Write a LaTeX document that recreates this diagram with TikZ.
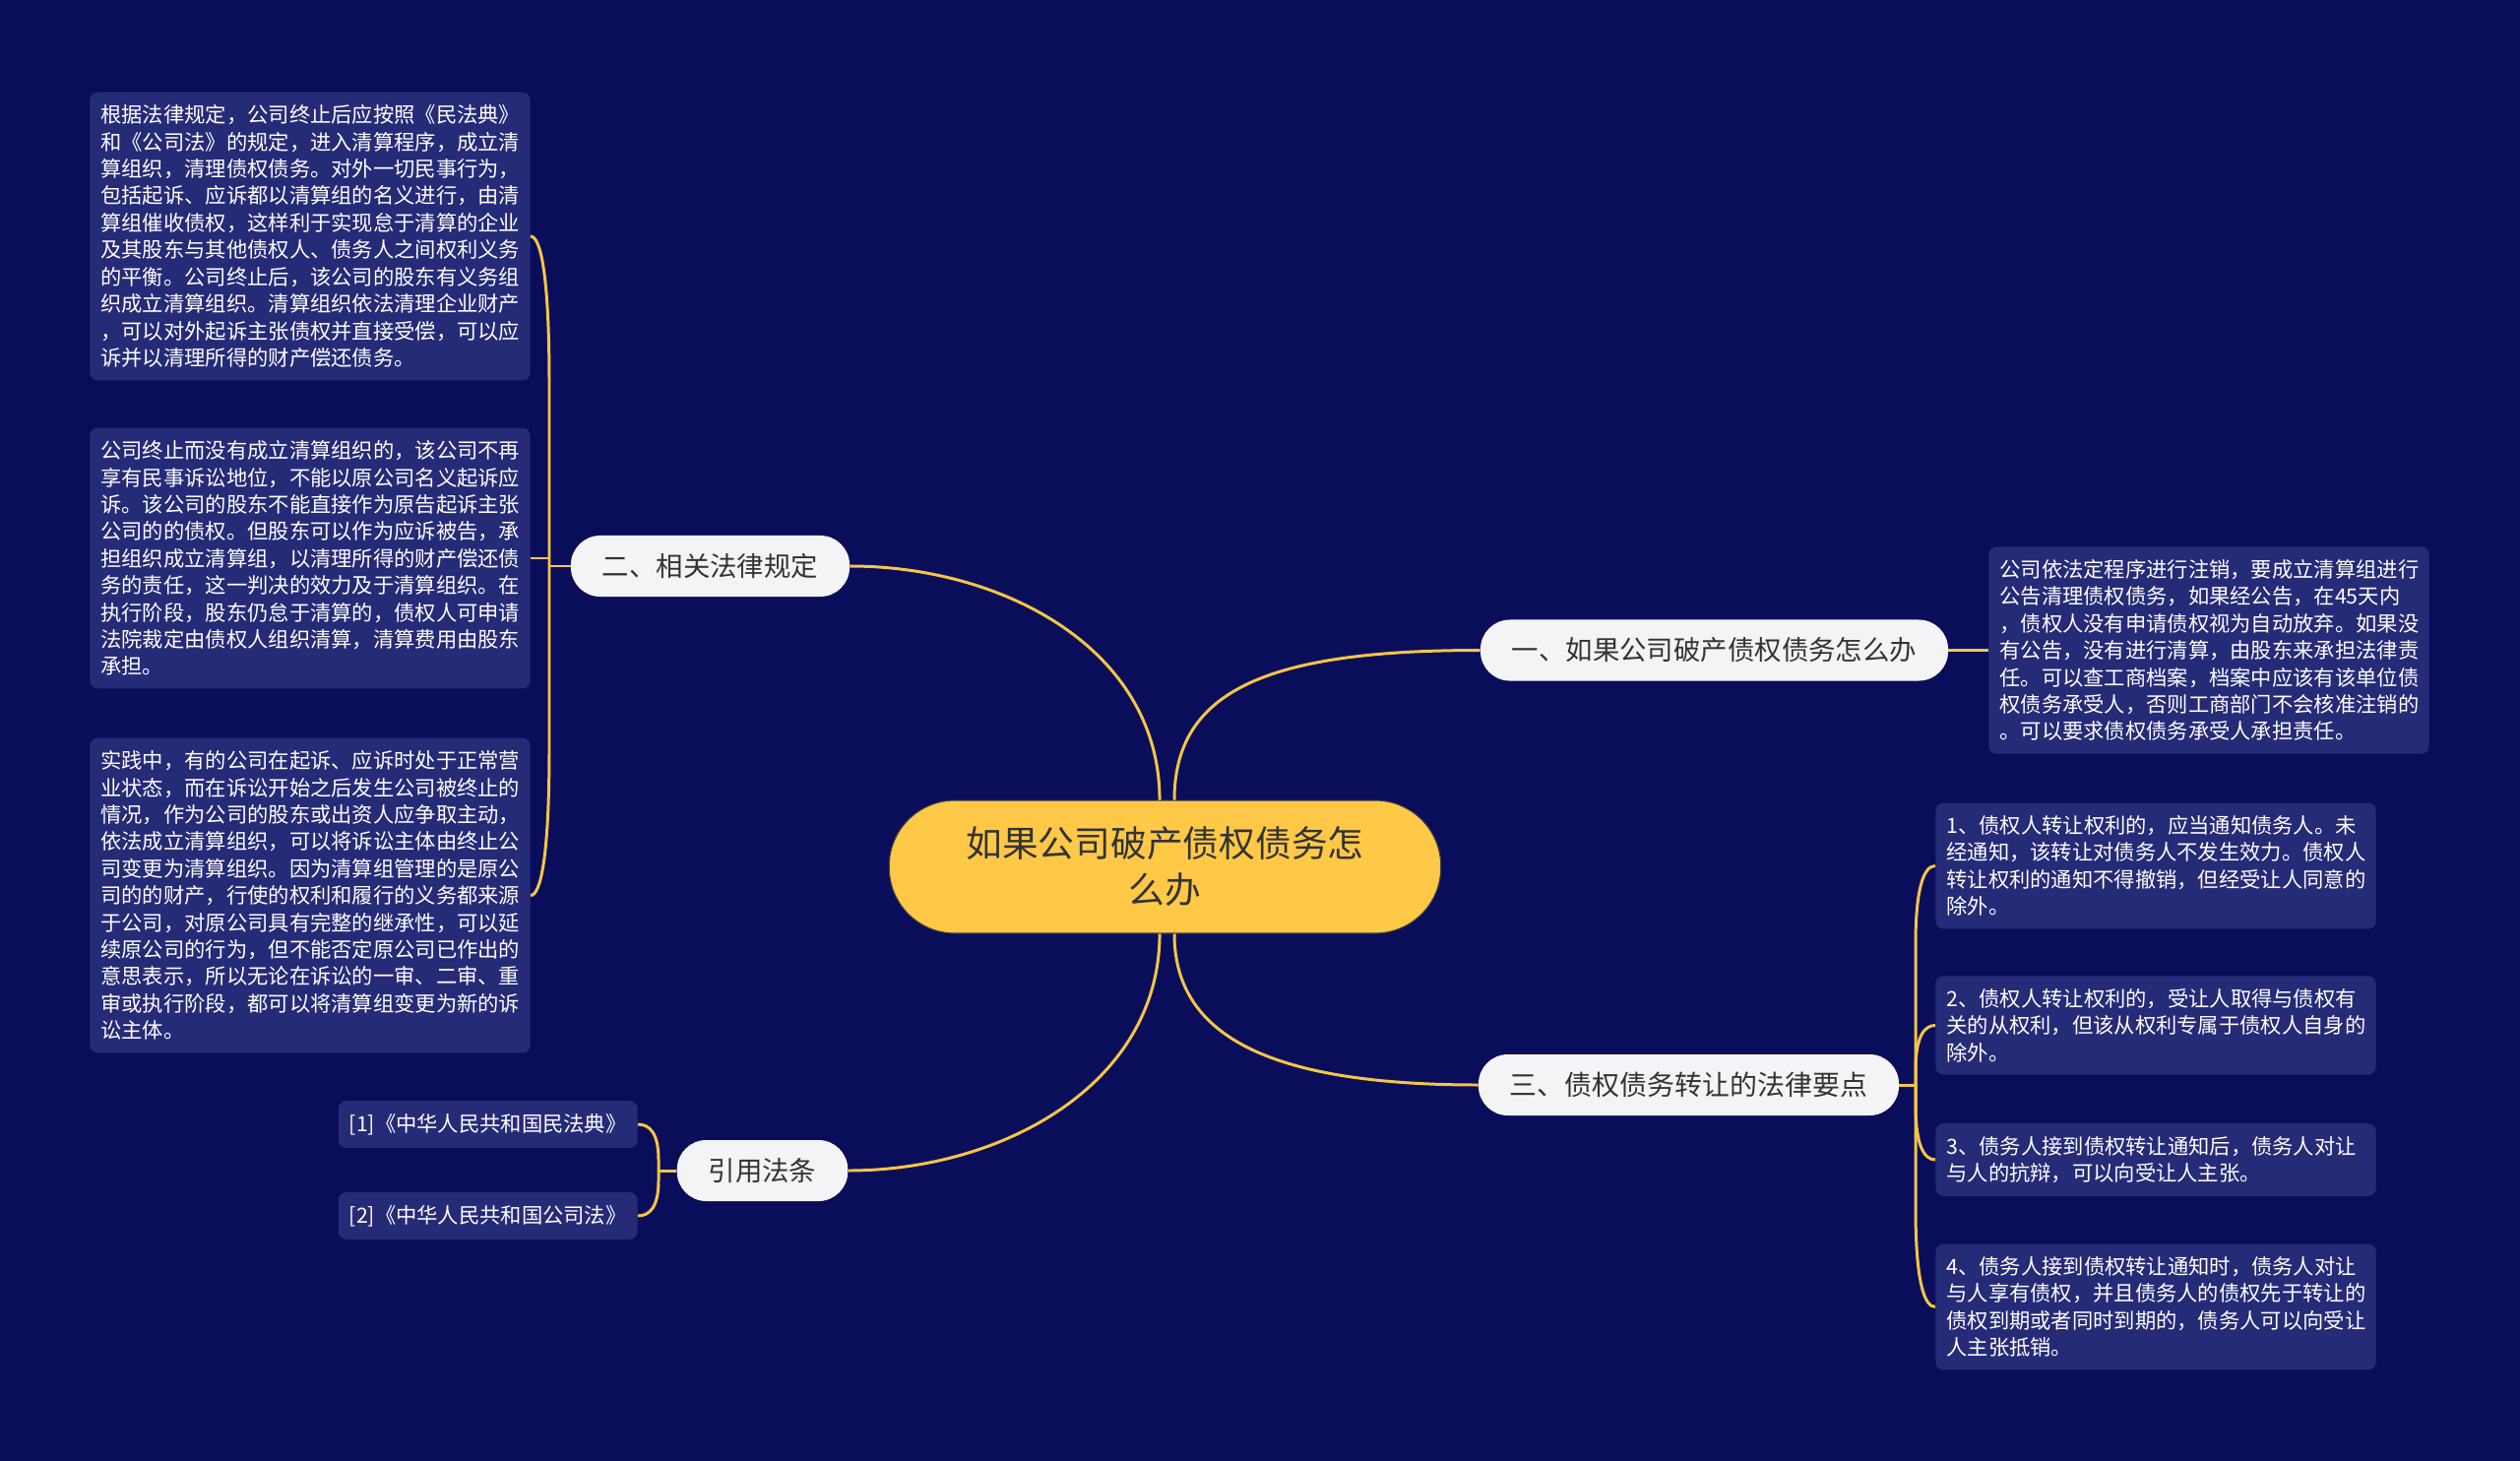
\documentclass[tikz,border=0pt]{standalone}
\usepackage{fontspec}
\setmainfont{Noto Sans CJK SC}

\definecolor{bgnavy}{HTML}{0A0E5A}
\definecolor{leafnavy}{HTML}{262B78}
\definecolor{linkgold}{HTML}{F5C646}
\definecolor{rootgold}{HTML}{FFC947}
\definecolor{branchwhite}{HTML}{F4F4F6}
\definecolor{inkgrey}{HTML}{333333}

\tikzset{
  link/.style={draw=linkgold, line width=1.7pt},
  rootbox/.style={fill=rootgold, draw=black!75, line width=0.6pt, rounded corners=38pt,
    minimum width=319pt, minimum height=76.8pt, text width=236pt, align=center,
    text=inkgrey, font=\fontsize{20.9pt}{26.7pt}\selectfont},
  branchbox/.style={fill=branchwhite, rounded corners=17pt, minimum height=35.3pt,
    inner xsep=18.2pt, inner ysep=0pt, text=inkgrey, font=\fontsize{15.6pt}{18pt}\selectfont},
  leafbox/.style={fill=leafnavy, rounded corners=4.5pt, text=white, align=left,
    inner xsep=6.3pt, inner ysep=7.4pt, font=\fontsize{12.12pt}{15.6pt}\selectfont},
  textleaf/.style={leafbox, text width=242pt},
}

\begin{document}
\begin{tikzpicture}[x=0.02cm, y=-0.02cm]
    % Background
    \fill[bgnavy] (0,0) rectangle (2560,1484);
    \useasboundingbox (0,0) rectangle (2560,1484);

    % Central topic and main branches
    \node[rootbox] (ctr) at (1183.5,880.5) {如果公司破产债权债务怎\\么办};
    \node[branchbox] (b1) at (1741.5,660.5) {一、如果公司破产债权债务怎么办};
    \node[branchbox] (b2) at (721.5,575) {二、相关法律规定};
    \node[branchbox, font=\fontsize{15.9pt}{18pt}\selectfont] (b3) at (1715.5,1102) {三、债权债务转让的法律要点};
    \node[branchbox] (b4) at (774.5,1189) {引用法条};

    % Leaves of branch one
    \node[textleaf, anchor=west] (r0) at (2020,660.5) {公司依法定程序进行注销，要成立清算组进行\\公告清理债权债务，如果经公告，在45天内\\，债权人没有申请债权视为自动放弃。如果没\\有公告，没有进行清算，由股东来承担法律责\\任。可以查工商档案，档案中应该有该单位债\\权债务承受人，否则工商部门不会核准注销的\\。可以要求债权债务承受人承担责任。};

    % Leaves of branch two
    \node[textleaf, anchor=east] (l1) at (539,240) {根据法律规定，公司终止后应按照《民法典》\\和《公司法》的规定，进入清算程序，成立清\\算组织，清理债权债务。对外一切民事行为，\\包括起诉、应诉都以清算组的名义进行，由清\\算组催收债权，这样利于实现怠于清算的企业\\及其股东与其他债权人、债务人之间权利义务\\的平衡。公司终止后，该公司的股东有义务组\\织成立清算组织。清算组织依法清理企业财产\\，可以对外起诉主张债权并直接受偿，可以应\\诉并以清理所得的财产偿还债务。};
    \node[textleaf, anchor=east] (l2) at (539,567) {公司终止而没有成立清算组织的，该公司不再\\享有民事诉讼地位，不能以原公司名义起诉应\\诉。该公司的股东不能直接作为原告起诉主张\\公司的的债权。但股东可以作为应诉被告，承\\担组织成立清算组，以清理所得的财产偿还债\\务的责任，这一判决的效力及于清算组织。在\\执行阶段，股东仍怠于清算的，债权人可申请\\法院裁定由债权人组织清算，清算费用由股东\\承担。};
    \node[textleaf, anchor=east] (l3) at (539,909.5) {实践中，有的公司在起诉、应诉时处于正常营\\业状态，而在诉讼开始之后发生公司被终止的\\情况，作为公司的股东或出资人应争取主动，\\依法成立清算组织，可以将诉讼主体由终止公\\司变更为清算组织。因为清算组管理的是原公\\司的的财产，行使的权利和履行的义务都来源\\于公司，对原公司具有完整的继承性，可以延\\续原公司的行为，但不能否定原公司已作出的\\意思表示，所以无论在诉讼的一审、二审、重\\审或执行阶段，都可以将清算组变更为新的诉\\讼主体。};

    % Leaves of branch three
    \node[textleaf, anchor=west] (r1) at (1966,879.5) {1、债权人转让权利的，应当通知债务人。未\\经通知，该转让对债务人不发生效力。债权人\\转让权利的通知不得撤销，但经受让人同意的\\除外。};
    \node[textleaf, anchor=west] (r2) at (1966,1041.5) {2、债权人转让权利的，受让人取得与债权有\\关的从权利，但该从权利专属于债权人自身的\\除外。};
    \node[textleaf, anchor=west] (r3) at (1966,1178) {3、债务人接到债权转让通知后，债务人对让\\与人的抗辩，可以向受让人主张。};
    \node[textleaf, anchor=west] (r4) at (1966,1327.5) {4、债务人接到债权转让通知时，债务人对让\\与人享有债权，并且债务人的债权先于转让的\\债权到期或者同时到期的，债务人可以向受让\\人主张抵销。};

    % Cited laws
    \node[leafbox, anchor=east] (c1) at (648,1142) {[1]《中华人民共和国民法典》};
    \node[leafbox, anchor=east] (c2) at (648,1235) {[2]《中华人民共和国公司法》};

    % Curves from the central topic
    \draw[link] ([xshift=5.4pt]ctr.north) .. controls (1193,700) and (1290,660.5) .. (b1.west);
    \draw[link] ([xshift=-3.1pt]ctr.north) .. controls (1178,660) and (1020,575) .. (b2.east);
    \draw[link] ([xshift=5.4pt]ctr.south) .. controls (1193,1050) and (1285,1102) .. (b3.west);
    \draw[link] ([xshift=-3.1pt]ctr.south) .. controls (1178,1100) and (1020,1189) .. (b4.east);

    % Brackets to the leaves
    \draw[link] (b1.east) -- (r0.west);

    \coordinate (j2) at (558,575);
    \draw[link] (b2.west) -- (j2);
    \foreach \leaf/\ly/\k in {l1/240/150, l2/567/0, l3/909.5/-150}
      \draw[link] (j2) -- (558,\ly+\k) .. controls (558,\ly+0.25*\k) and (549,\ly) .. (\leaf.east);

    \coordinate (j3) at (1946,1102);
    \draw[link] (b3.east) -- (j3);
    \foreach \leaf/\ly/\k in {r1/879.5/80, r2/1041.5/45, r3/1178/-55, r4/1327.5/-100}
      \draw[link] (j3) -- (1946,\ly+\k) .. controls (1946,\ly+0.25*\k) and (1955,\ly) .. (\leaf.west);

    \coordinate (j4) at (669,1189);
    \draw[link] (b4.west) -- (j4);
    \foreach \leaf/\ly/\k in {c1/1142/36, c2/1235/-36}
      \draw[link] (j4) -- (669,\ly+\k) .. controls (669,\ly+0.25*\k) and (660,\ly) .. (\leaf.east);
\end{tikzpicture}
\end{document}
